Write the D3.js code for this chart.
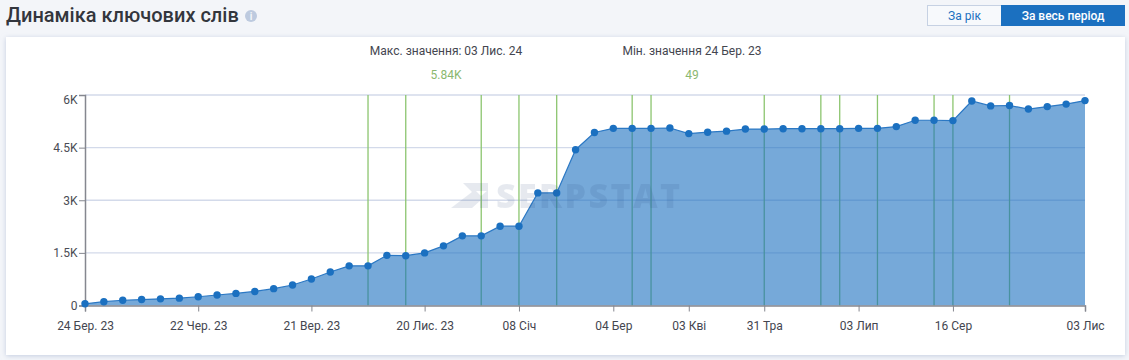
<!DOCTYPE html>
<html>
<head>
<meta charset="utf-8">
<script src="https://cdnjs.cloudflare.com/ajax/libs/d3/7.8.5/d3.min.js"></script>
<style>
html, body { margin: 0; padding: 0; background: #f3f5f9; overflow: hidden; }
text { font-family: Roboto, sans-serif; }
</style>
</head>
<body>
<div id="chart"></div>
<script>
// keyword counts per snapshot
var values = [49, 108, 150, 170, 190, 210, 250, 300, 345, 400, 480, 585, 755, 955, 1130, 1130, 1430, 1420,
	1500, 1700, 1985, 1985, 2260, 2260, 3210, 3210, 4440, 4930, 5050, 5050, 5050, 5060, 4900, 4940, 4970,
	5030, 5030, 5040, 5040, 5040, 5040, 5050, 5050, 5100, 5280, 5280, 5270, 5830, 5690, 5700, 5600, 5670,
	5740, 5840];
var tickIndex = [0, 6, 12, 18, 23, 28, 32, 36, 41, 46, 53];
var tickLabels = ["24 Бер. 23", "22 Чер. 23", "21 Вер. 23", "20 Лис. 23", "08 Січ", "04 Бер", "03 Кві", "31 Тра", "03 Лип", "16 Сер", "03 Лис"];
var yTicks = [0, 1500, 3000, 4500, 6000];
var yLabels = ["0", "1.5K", "3K", "4.5K", "6K"];
var guideIndex = [15, 17, 21, 23, 25, 29, 30, 36, 39, 40, 42, 45, 46, 49];

var svgWidth = 1129;
var svgHeight = 360;
var margin = { top: 95, right: 44, bottom: 54.5, left: 85 };
var chartWidth = svgWidth - margin.left - margin.right;
var chartHeight = svgHeight - margin.top - margin.bottom;

var svg = d3.select("#chart").append("svg")
	.attr("width", svgWidth)
	.attr("height", svgHeight)
	.style("display", "block");

var defs = svg.append("defs");
var shadow = defs.append("filter").attr("id", "shadow")
	.attr("x", "-2%").attr("y", "-5%").attr("width", "104%").attr("height", "110%");
shadow.append("feDropShadow")
	.attr("dx", 0).attr("dy", 1).attr("stdDeviation", 2.5)
	.attr("flood-color", "#b4c0d8").attr("flood-opacity", 0.75);

// page header
svg.append("text").attr("x", 6).attr("y", 22)
	.attr("font-size", "20px").attr("font-weight", 500).attr("fill", "#33363d")
	.text("Динаміка ключових слів");
svg.append("circle").attr("cx", 251).attr("cy", 16).attr("r", 6).attr("fill", "#bdcadf");
svg.append("text").attr("x", 251).attr("y", 20).attr("text-anchor", "middle")
	.attr("font-size", "10px").attr("font-weight", 700).attr("fill", "#f3f5f9").text("i");

// period switch
svg.append("rect").attr("x", 927.5).attr("y", 5.5).attr("width", 74).attr("height", 20)
	.attr("fill", "#f7f9fc").attr("stroke", "#c6d1e3");
svg.append("text").attr("x", 964.5).attr("y", 20).attr("text-anchor", "middle")
	.attr("font-size", "12px").attr("fill", "#1b70c0").text("За рік");
svg.append("rect").attr("x", 1001).attr("y", 5).attr("width", 124).attr("height", 21).attr("fill", "#1b70c0");
svg.append("text").attr("x", 1063).attr("y", 20).attr("text-anchor", "middle")
	.attr("font-size", "12px").attr("font-weight", 500).attr("fill", "#ffffff").text("За весь період");

// card
svg.append("rect").attr("x", 6).attr("y", 37).attr("width", 1119).attr("height", 318)
	.attr("fill", "#ffffff").attr("filter", "url(#shadow)");

// min / max captions
svg.append("text").attr("x", 446).attr("y", 55).attr("text-anchor", "middle")
	.attr("font-size", "12px").attr("fill", "#44464f").text("Макс. значення: 03 Лис. 24");
svg.append("text").attr("x", 446).attr("y", 79).attr("text-anchor", "middle")
	.attr("font-size", "12px").attr("fill", "#8bb86f").text("5.84K");
svg.append("text").attr("x", 692).attr("y", 55).attr("text-anchor", "middle")
	.attr("font-size", "12px").attr("fill", "#44464f").text("Мін. значення 24 Бер. 23");
svg.append("text").attr("x", 692).attr("y", 79).attr("text-anchor", "middle")
	.attr("font-size", "12px").attr("fill", "#8bb86f").text("49");

var chartGroup = svg.append("g")
	.attr("transform", `translate(${margin.left}, ${margin.top})`);

var xScale = d3.scaleLinear().domain([0, values.length - 1]).range([0, chartWidth]);
var yScale = d3.scaleLinear().domain([0, 6000]).range([chartHeight, 0]);

// grid
chartGroup.append("g").selectAll("line")
	.data(yTicks.slice(1))
	.enter().append("line")
	.attr("x1", 0).attr("x2", chartWidth)
	.attr("y1", d => yScale(d)).attr("y2", d => yScale(d))
	.attr("stroke", "#d3daea").attr("stroke-width", 1.4);

// green markers
chartGroup.append("g").selectAll("line")
	.data(guideIndex)
	.enter().append("line")
	.attr("x1", d => xScale(d)).attr("x2", d => xScale(d))
	.attr("y1", 0).attr("y2", chartHeight)
	.attr("stroke", "#8cc56f").attr("stroke-width", 1.3);

var area = d3.area()
	.x((d, i) => xScale(i))
	.y0(chartHeight)
	.y1(d => yScale(d));
var line = d3.line()
	.x((d, i) => xScale(i))
	.y(d => yScale(d));

chartGroup.append("path").datum(values)
	.attr("d", area)
	.attr("fill", "#1b70c0").attr("fill-opacity", 0.6);
chartGroup.append("path").datum(values)
	.attr("d", line)
	.attr("fill", "none").attr("stroke", "#2b78c4").attr("stroke-width", 1.2);

// watermark
var mark = svg.append("g").attr("fill", "#24457a").attr("opacity", 0.11);
mark.append("path").attr("d", "M451 208 L472 192 L463 183 L488 183 L488 191 L476 191 L481 196 L488 190 L488 208 L480 208 L480 201 L472 208 Z");
mark.append("text").attr("x", 496).attr("y", 208)
	.attr("font-size", "34px").attr("font-weight", 800).attr("letter-spacing", "2.4px")
	.style("font-family", "'Open Sans', Roboto, sans-serif")
	.text("SERPSTAT");

var yAxis = d3.axisLeft(yScale)
	.tickValues(yTicks)
	.tickFormat((d, i) => yLabels[i])
	.tickSize(6);
var xAxis = d3.axisBottom(xScale)
	.tickValues(tickIndex)
	.tickFormat((d, i) => tickLabels[i])
	.tickSize(6);

var gy = chartGroup.append("g").call(yAxis);
var gx = chartGroup.append("g")
	.attr("transform", `translate(0, ${chartHeight})`)
	.call(xAxis);

gy.selectAll("path, line").attr("stroke", "#85878f");
gy.select("path").attr("stroke-width", 1.5);
gy.selectAll("text").attr("font-size", "12px").attr("fill", "#4a4c54")
	.style("font-family", "Roboto, sans-serif").attr("x", -7.5)
	.attr("dy", (d, i) => i == yTicks.length - 1 ? "0.7em" : "0.32em");
gx.selectAll("path, line").attr("stroke", "#85878f");
gx.select("path").attr("stroke-width", 1.5);
gx.selectAll("text").attr("font-size", "12px").attr("fill", "#44464f")
	.style("font-family", "Roboto, sans-serif").attr("y", 16);

// points on top of axes
chartGroup.append("g").selectAll("circle")
	.data(values)
	.enter().append("circle")
	.attr("cx", (d, i) => xScale(i))
	.attr("cy", d => yScale(d))
	.attr("r", 3.7)
	.attr("fill", "#1b70c0");
</script>
</body>
</html>
